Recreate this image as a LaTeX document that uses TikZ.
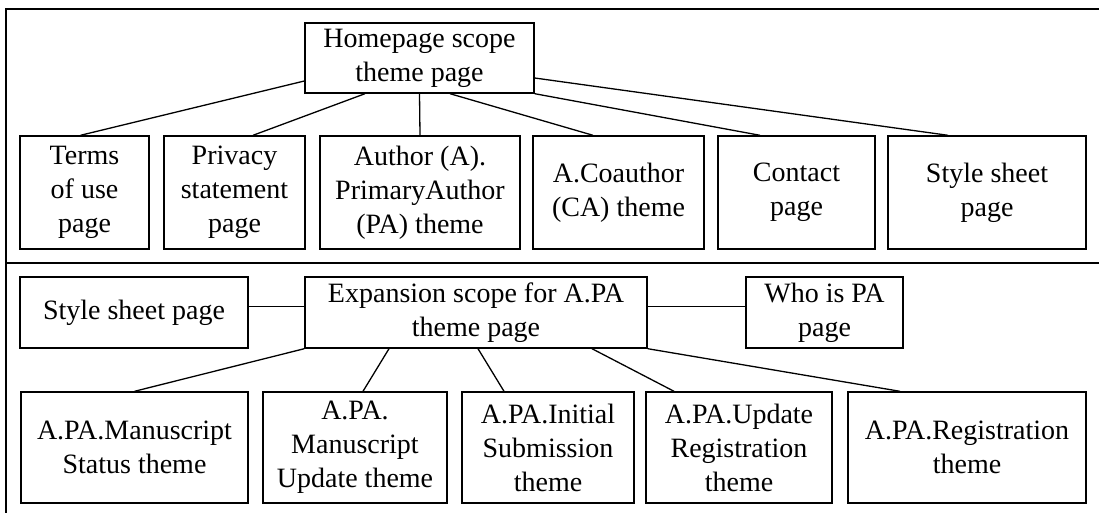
\documentclass[tikz,border=0pt]{standalone}
\usepackage{fontspec}
\setmainfont{Liberation Serif}
\usepackage{tikz}
\usetikzlibrary{positioning}

\begin{document}
\begin{tikzpicture}[
  x=1pt, y=-1pt,
  box/.style={draw, line width=1.4pt, align=center, inner sep=0pt, font=\fontsize{28}{34}\selectfont},
  tallbox/.style={box, minimum height=113pt},
  midbox/.style={box, minimum height=71pt},
  lowbox/.style={box, minimum height=111pt},
  link/.style={line width=1.3pt},
  frame/.style={line width=1.9pt}
]
  \useasboundingbox (0,0) rectangle (1099,513);

  % upper part
  \node[box, minimum width=229pt, minimum height=70pt] (home) at (419.5,58) {Homepage scope\\theme page};
  \node[tallbox, minimum width=129pt] (terms) at (84.5,192.5) {Terms\\of use\\page};
  \node[tallbox, minimum width=141pt] (privacy) at (234.5,192.5) {Privacy\\statement\\page};
  \node[tallbox, minimum width=200pt] (author) at (420,192.5) {Author (A).\\PrimaryAuthor\\(PA) theme};
  \node[tallbox, minimum width=171pt] (coauthor) at (618.5,192.5) {A.Coauthor\\(CA) theme};
  \node[tallbox, minimum width=157pt] (contact) at (796.5,192.5) {Contact\\page};
  \node[tallbox, minimum width=198pt] (style) at (987,192.5) {Style sheet\\page};

  \draw[link] ([yshift=-23pt]home.west) -- ([xshift=-4pt]terms.north);
  \draw[link] ([xshift=-54.5pt]home.south) -- ([xshift=18.5pt]privacy.north);
  \draw[link] (home.south) -- (author.north);
  \draw[link] ([xshift=30.5pt]home.south) -- ([xshift=-25.5pt]coauthor.north);
  \draw[link] (home.south east) -- ([xshift=-36.5pt]contact.north);
  \draw[link] ([yshift=-20pt]home.east) -- ([xshift=-39pt]style.north);

  % lower part
  \node[midbox, minimum width=228pt] (sheet) at (134,312.5) {Style sheet page};
  \node[midbox, minimum width=342pt] (expand) at (476,312.5) {Expansion scope for A.PA\\theme page};
  \node[midbox, minimum width=157pt] (whois) at (824.5,312.5) {Who is PA\\page};
  \node[lowbox, minimum width=227pt] (status) at (134.5,447.5) {A.PA.Manuscript\\Status theme};
  \node[lowbox, minimum width=184pt] (update) at (355,447.5) {A.PA.\\Manuscript\\Update theme};
  \node[lowbox, minimum width=172pt] (initial) at (548,447.5) {A.PA.Initial\\Submission\\theme};
  \node[lowbox, minimum width=186pt] (upreg) at (739,447.5) {A.PA.Update\\Registration\\theme};
  \node[lowbox, minimum width=238pt] (regist) at (967,447.5) {A.PA.Registration\\theme};

  \draw[link] ([yshift=6pt]sheet.east) -- ([yshift=6pt]expand.west);
  \draw[link] ([yshift=6pt]expand.east) -- ([yshift=6pt]whois.west);
  \draw[link] (expand.south west) -- (status.north);
  \draw[link] ([xshift=-87pt]expand.south) -- ([xshift=8pt]update.north);
  \draw[link] ([xshift=2pt]expand.south) -- ([xshift=-44pt]initial.north);
  \draw[link] ([xshift=116pt]expand.south) -- ([xshift=-65pt]upreg.north);
  \draw[link] (expand.south east) -- ([xshift=-67pt]regist.north);

  % frame
  \draw[frame] (1099,9) -- (6,9) -- (6,513);
  \draw[frame] (6,263) -- (1099,263);
\end{tikzpicture}
\end{document}
